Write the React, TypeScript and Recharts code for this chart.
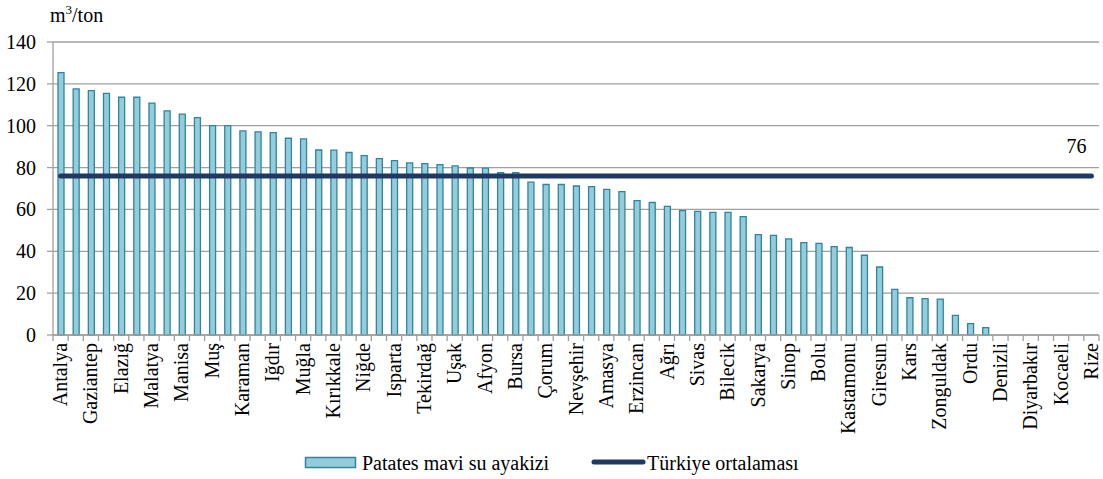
import React from 'react';
import { ComposedChart, Bar, Line, XAxis, YAxis, CartesianGrid, Legend, LabelList } from 'recharts';

// ---- data ----
const provinces = [
  'Antalya', 'Adana', 'Gaziantep', 'Hatay', 'Elazığ', 'Mersin', 'Malatya', 'Kahramanmaraş',
  'Manisa', 'Aydın', 'Muş', 'Bitlis', 'Karaman', 'Konya', 'Iğdır', 'Van', 'Muğla', 'Burdur',
  'Kırıkkale', 'Kırşehir', 'Niğde', 'Aksaray', 'Isparta', 'Kütahya', 'Tekirdağ', 'Edirne',
  'Uşak', 'Eskişehir', 'Afyon', 'Kayseri', 'Bursa', 'Yozgat', 'Çorum', 'Çankırı', 'Nevşehir',
  'Tokat', 'Amasya', 'Erzurum', 'Erzincan', 'Bingöl', 'Ağrı', 'Bayburt', 'Sivas', 'Balıkesir',
  'Bilecik', 'Düzce', 'Sakarya', 'Samsun', 'Sinop', 'Bartın', 'Bolu', 'Karabük', 'Kastamonu',
  'Trabzon', 'Giresun', 'Ardahan', 'Kars', 'Artvin', 'Zonguldak', 'Gümüşhane', 'Ordu', 'İzmir',
  'Denizli', 'Ankara', 'Diyarbakır', 'İstanbul', 'Kocaeli', 'Kilis', 'Rize',
];

const waterFootprint = [
  125.4, 117.6, 116.8, 115.5, 113.6, 113.6, 110.8, 107.1, 105.5, 103.9,
  100.0, 100.0, 97.5, 97.1, 96.7, 94.0, 93.7, 88.4, 88.3, 87.2,
  85.7, 84.3, 83.3, 82.2, 81.9, 81.4, 80.8, 79.8, 79.7, 77.6,
  77.6, 73.0, 71.9, 71.9, 71.2, 70.9, 69.6, 68.5, 64.2, 63.3,
  61.5, 59.4, 59.1, 58.6, 58.6, 56.6, 48.0, 47.6, 45.9, 44.1,
  43.8, 42.2, 41.8, 38.1, 32.5, 21.8, 17.8, 17.4, 17.1, 9.4,
  5.4, 3.5, 0, 0, 0, 0, 0, 0, 0,
];

const turkeyAverage = 76;
const yTicks = [0, 20, 40, 60, 80, 100, 120, 140];
const barName = 'Patates mavi su ayakizi';
const lineName = 'Türkiye ortalaması';
const unitMain = 'm';
const unitSup = '3';
const unitRest = '/ton';

const data = provinces.map((name, i) => ({
  name,
  footprint: waterFootprint[i],
  average: turkeyAverage,
}));

// ---- layout / style ----
const W = 1103;
const H = 479;
const MARGIN = { top: 42, right: 4, bottom: 0, left: 0 };
const Y_AXIS_W = 53;
const X_AXIS_H = 115;
const FONT = "'Liberation Serif', 'Times New Roman', Tinos, serif";
const FS = 20;
const GRID = '#A0A0A0';
const BAR_FILL = '#93CDDD';
const BAR_STROKE = '#31849B';
const LINE_COLOR = '#1F3864';
const TXT = { fontFamily: FONT, fontSize: FS, fill: '#000' } as React.CSSProperties;

const band = (W - MARGIN.left - MARGIN.right - Y_AXIS_W) / provinces.length;

function XTick(props: any) {
  const { x, y, payload, index } = props;
  const i = payload && payload.index !== undefined ? payload.index : index;
  const half = band / 2;
  const ty = y + 8;
  return (
    <g>
      <line x1={x - half} y1={y} x2={x - half} y2={y + 6} stroke={GRID} strokeWidth={1.3} />
      {i === provinces.length - 1 && (
        <line x1={x + half} y1={y} x2={x + half} y2={y + 6} stroke={GRID} strokeWidth={1.3} />
      )}
      {i % 2 === 0 && (
        <text
          x={x}
          y={ty}
          transform={`rotate(-90 ${x} ${ty})`}
          textAnchor="end"
          dy="0.33em"
          style={TXT}
        >
          {payload.value}
        </text>
      )}
    </g>
  );
}

function YTick(props: any) {
  const { x, y, payload } = props;
  return (
    <text x={x} y={y} dy="0.35em" textAnchor="end" style={TXT}>
      {payload.value}
    </text>
  );
}

function AvgLabel(props: any) {
  const { x, y, index, value } = props;
  if (index !== provinces.length - 1) return null;
  return (
    <text x={x - 15} y={y - 23} textAnchor="middle" style={TXT}>
      {value}
    </text>
  );
}

function UnitLabel(props: any) {
  const vb = props.viewBox || { x: 0, y: MARGIN.top, width: Y_AXIS_W };
  return (
    <text x={vb.x + vb.width - 3} y={vb.y - 20} textAnchor="start" style={TXT}>
      {unitMain}
      <tspan style={{ fontSize: 13 }} dy={-8}>{unitSup}</tspan>
      <tspan dy={8}>{unitRest}</tspan>
    </text>
  );
}

function LegendContent(props: any) {
  const payload = props.payload || [];
  const barItem = payload.find((p: any) => p.dataKey === 'footprint');
  const lineItem = payload.find((p: any) => p.dataKey === 'average');
  return (
    <svg width={W - MARGIN.right} height={29} style={{ display: 'block' }}>
      <rect x={305.5} y={7.5} width={50} height={10} fill={BAR_FILL} stroke={BAR_STROKE} strokeWidth={1.5} />
      <text x={362} y={20} style={TXT}>
        {barItem ? barItem.value : barName}
      </text>
      <line x1={594} y1={12} x2={643} y2={12} stroke={LINE_COLOR} strokeWidth={5} strokeLinecap="round" />
      <text x={647} y={20} style={TXT}>
        {lineItem ? lineItem.value : lineName}
      </text>
    </svg>
  );
}

export default function App() {
  return (
    <div style={{ position: 'absolute', left: 0, top: 0, width: W, height: H, background: '#fff', fontFamily: FONT }}>
      <ComposedChart width={W} height={H} data={data} margin={MARGIN}>
        <CartesianGrid vertical={false} stroke={GRID} strokeWidth={1.3} />
        <XAxis
          dataKey="name"
          interval={0}
          height={X_AXIS_H}
          tickLine={false}
          tickSize={0}
          tickMargin={0}
          axisLine={{ stroke: GRID, strokeWidth: 1.3 }}
          tick={<XTick />}
        />
        <YAxis
          width={Y_AXIS_W}
          domain={[0, 140]}
          ticks={yTicks}
          interval={0}
          axisLine={{ stroke: GRID, strokeWidth: 1.3 }}
          tickLine={{ stroke: GRID, strokeWidth: 1.3 }}
          tickSize={6}
          tickMargin={11}
          tick={<YTick />}
          label={{ content: UnitLabel }}
        />
        <Legend verticalAlign="bottom" wrapperStyle={{ left: 0 }} content={LegendContent} />
        <Bar
          dataKey="footprint"
          name={barName}
          fill={BAR_FILL}
          stroke={BAR_STROKE}
          strokeWidth={1.3}
          barSize={6}
          isAnimationActive={false}
        />
        <Line
          dataKey="average"
          name={lineName}
          type="linear"
          stroke={LINE_COLOR}
          strokeWidth={5}
          strokeLinecap="round"
          dot={false}
          activeDot={false}
          isAnimationActive={false}
        >
          <LabelList dataKey="average" content={AvgLabel} />
        </Line>
      </ComposedChart>
    </div>
  );
}
